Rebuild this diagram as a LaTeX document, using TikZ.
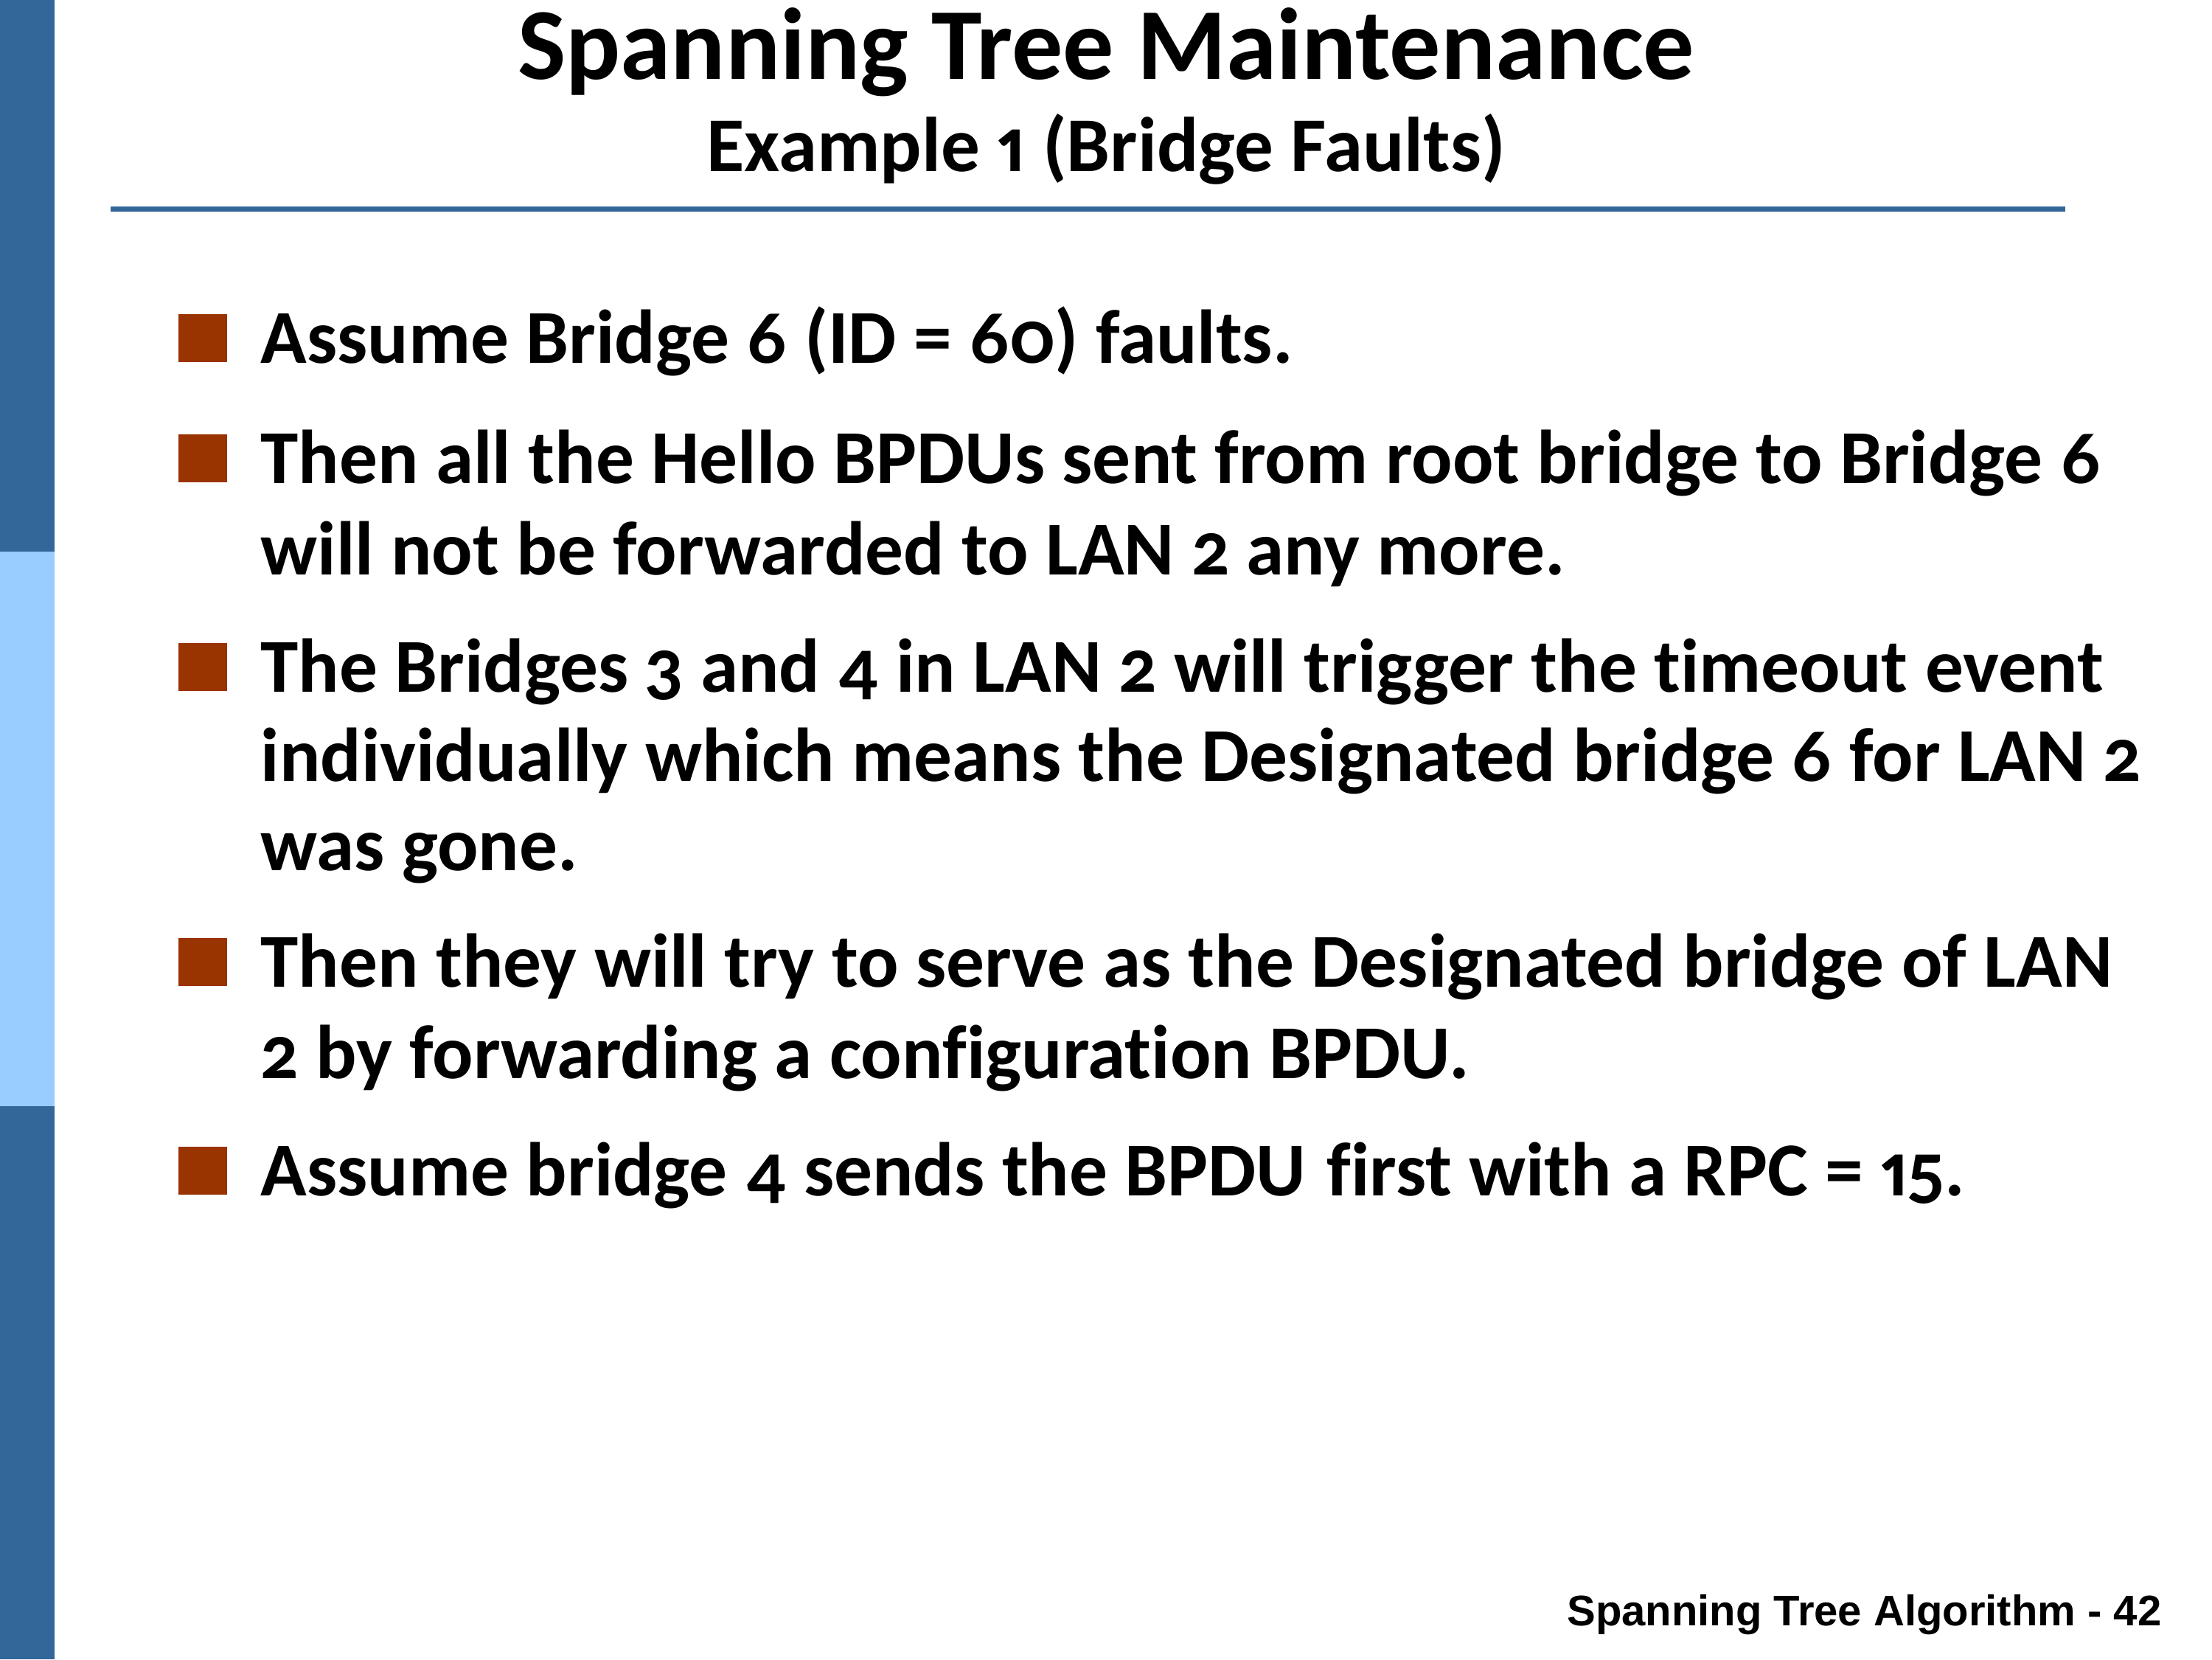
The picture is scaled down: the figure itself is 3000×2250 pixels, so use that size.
\documentclass[tikz,border=0pt]{standalone}
\usepackage{fontspec}
\setmainfont{Carlito}[Numbers={OldStyle,Proportional}, Ligatures=NoCommon]
\newfontfamily\footfont{Liberation Sans}
\definecolor{barblue}{HTML}{336699}
\definecolor{lightbar}{HTML}{99CCFF}
\definecolor{bulletred}{HTML}{993300}
\begin{document}
\begin{tikzpicture}[x=0.01cm,y=-0.01cm,
  txt/.style={anchor=base west, inner sep=0pt, font=\bfseries\fontsize{29.4}{36}\selectfont},
  bulletsq/.style={anchor=south west, fill=bulletred, draw=none, inner sep=0pt, minimum width=0.66cm, minimum height=0.65cm},
  ttl/.style={anchor=base, inner sep=0pt, font=\bfseries\fontsize{39.3}{46}\selectfont},
  subttl/.style={anchor=base, inner sep=0pt, font=\bfseries\fontsize{29.9}{36}\selectfont},
  foot/.style={anchor=base east, inner sep=0pt, font=\footfont\bfseries\fontsize{16.5}{20}\selectfont}]
\useasboundingbox (0,0) rectangle (3000,2250);
% left bar
\fill[barblue] (0,0) rectangle (74,748);
\fill[lightbar] (0,748) rectangle (74,1500);
\fill[barblue] (0,1500) rectangle (74,2250);
% title
\node[ttl] (title) at (1500,107) {Spanning Tree Maintenance};
\node[subttl] (subtitle) at (1500,232) {Example 1 (Bridge Faults)};
\coordinate (rl) at (150,283.5);
\coordinate (rr) at (2801,283.5);
\draw[barblue, line width=0.07cm] (rl) -- (rr);
% bullets
\node[bulletsq] (s1) at (241,492) {};
\node[txt] (l1) at (353,492) {Assume Bridge 6 (ID = 60) faults.};
\node[bulletsq] (s2) at (241,655) {};
\node[txt] (l2) at (353,655) {Then all the Hello BPDUs sent from root bridge to Bridge 6};
\node[txt] (l3) at (353,779) {will not be forwarded to LAN 2 any more.};
\node[bulletsq] (s3) at (241,938) {};
\node[txt] (l4) at (353,938) {The Bridges 3 and 4 in LAN 2 will trigger the timeout event};
\node[txt] (l5) at (353,1059) {individually which means the Designated bridge 6 for LAN 2};
\node[txt] (l6) at (353,1180) {was gone.};
\node[bulletsq] (s4) at (241,1338) {};
\node[txt] (l7) at (353,1338) {Then they will try to serve as the Designated bridge of LAN};
\node[txt] (l8) at (353,1462) {2 by forwarding a configuration BPDU.};
\node[bulletsq] (s5) at (241,1621) {};
\node[txt] (l9) at (353,1621) {Assume bridge 4 sends the BPDU\hspace{0.27em}first with a RPC = 15.};
% footer
\node[foot] (footer) at (2932,2204) {Spanning Tree Algorithm - 42};
\end{tikzpicture}
\end{document}
